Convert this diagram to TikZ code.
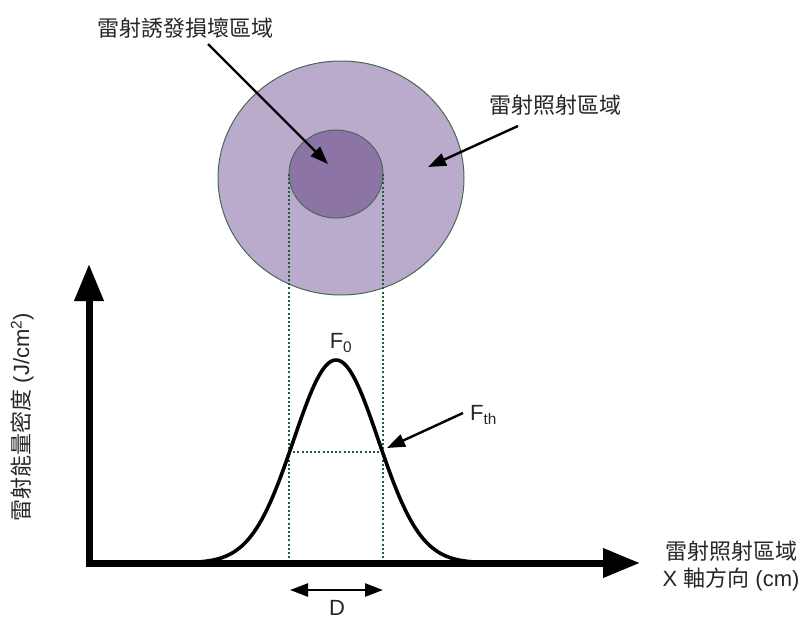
\documentclass[tikz,border=0pt]{standalone}
\usepackage{fontspec}
\setmainfont{Liberation Sans}
\newfontfamily\cjk{Noto Sans CJK TC}
\usetikzlibrary{arrows.meta,calc,positioning}
\definecolor{spotouter}{RGB}{186,170,204}
\definecolor{spotinner}{RGB}{141,116,166}
\definecolor{spotedge}{RGB}{72,104,86}
\definecolor{guidegreen}{RGB}{30,95,55}

\begin{document}
\begin{tikzpicture}[x=1pt,y=-1pt,font=\fontsize{22}{27}\selectfont,
  lbl/.style={inner sep=1pt,text=black!85},
  ptr/.style={-{Triangle[length=18pt,width=13pt]},line width=2.4pt},
  axis/.style={{Triangle[length=37pt,width=28pt]}-{Triangle[length=37pt,width=28pt]},line width=7pt},
  guide/.style={guidegreen,line width=2pt,dash pattern=on 2pt off 2.2pt}]
  \useasboundingbox (0,0) rectangle (803,621);
  % laser spot
  \draw[fill=spotouter,draw=spotedge,line width=1pt] (341,178) ellipse [x radius=123pt,y radius=117pt];
  \draw[fill=spotinner,draw=spotedge,line width=1pt] (336,174) ellipse [x radius=47pt,y radius=44pt];
  % guides
  \coordinate(GL)at(289,174);\coordinate(GR)at(383,174);
  \coordinate(BL)at(289,563);\coordinate(BR)at(383,563);
  \coordinate(TL)at(289,452);\coordinate(TR)at(383,452);
  \draw[guide](GL)--(BL);
  \draw[guide](GR)--(BR);
  \draw[guide](TL)--(TR);
  % axes
  \coordinate(O)at(89,563);\coordinate(Ytip)at(89,264);\coordinate(Xtip)at(640,563);
  \draw[axis,line join=miter](Ytip)--(O)--(Xtip);
  % fluence profile
  \draw[line width=3.6pt,line cap=round] plot[domain=190:482,samples=120,smooth]
    (\x,{563-203*exp(-0.5*((\x-336)/42.3)^2)});
  % labels
  \node[lbl] (damage) at (185,28) {\cjk 雷射誘發損壞區域};
  \node[lbl] (irrad) at (555,105) {\cjk 雷射照射區域};
  \node[lbl] (peak) at (341,343) {F\textsubscript{0}};
  \node[lbl,anchor=west] (thresh) at (469,415) {F\textsubscript{th}};
  \node[lbl,inner sep=0pt] (diam) at (337,608) {D};
  \node[lbl,rotate=90] (ylab) at (22,417) {{\cjk 雷射能量密度} (J/cm\textsuperscript{2})};
  \node[lbl,align=center] (xlab) at (731,566) {{\cjk 雷射照射區域}\\X {\cjk 軸方向} (cm)};
  % pointers
  \coordinate(damagetail)at(208,44);\coordinate(damagetip)at(328,164);
  \coordinate(irradtail)at(518,126);\coordinate(irradtip)at(428,167);
  \coordinate(threshtail)at(463,413);\coordinate(threshtip)at(387,448);
  \coordinate(DL)at(290,590);\coordinate(DR)at(383,590);
  \draw[ptr](damagetail)--(damagetip);
  \draw[ptr](irradtail)--(irradtip);
  \draw[ptr](threshtail)--(threshtip);
  \draw[{Triangle[length=18pt,width=13pt]}-{Triangle[length=18pt,width=13pt]},line width=2.4pt](DL)--(DR);
\end{tikzpicture}
\end{document}
